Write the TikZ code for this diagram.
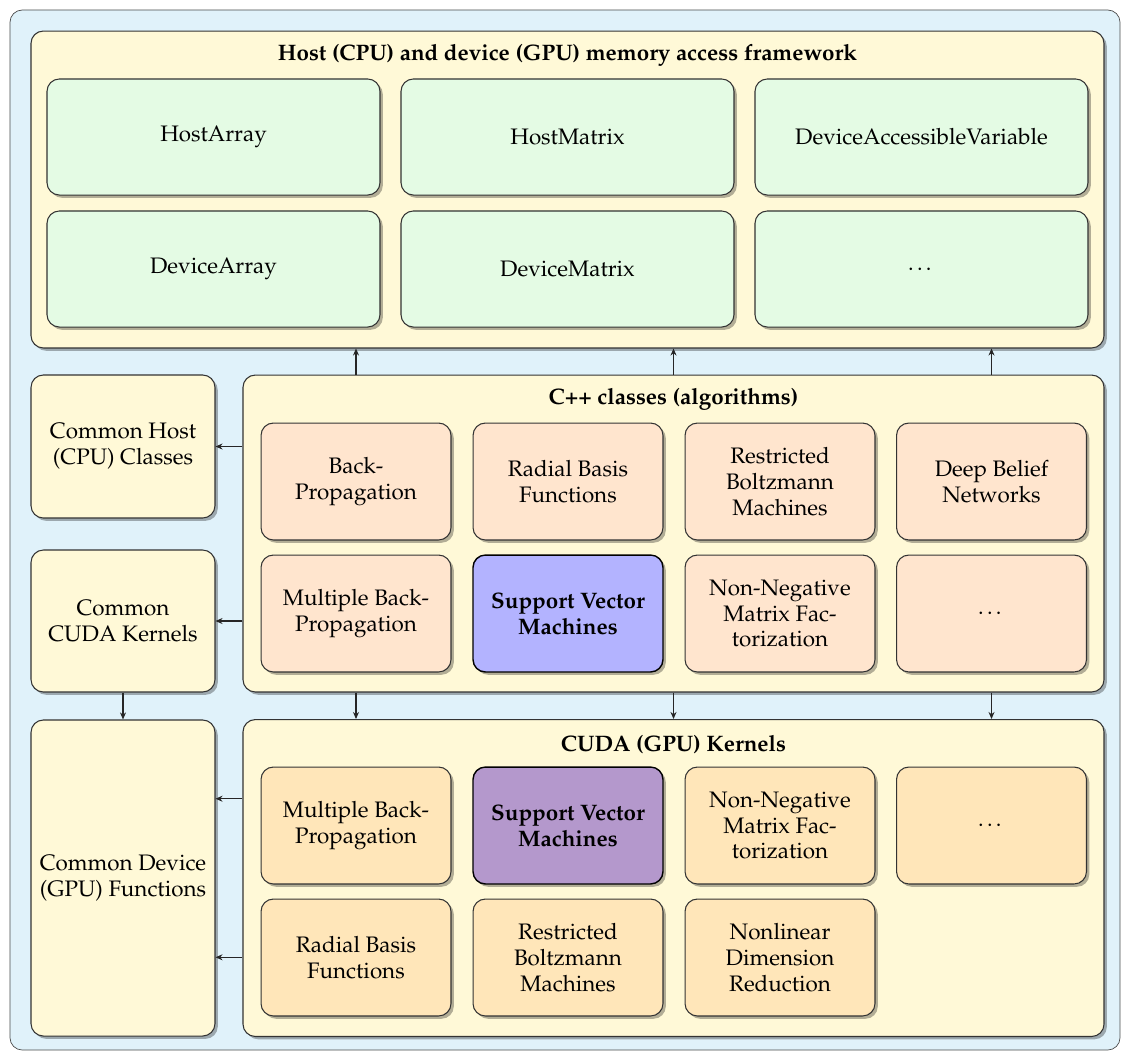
\documentclass[tikz,border=0pt]{standalone}
\usepackage[T1]{fontenc}
\usepackage{mathpazo}
\usetikzlibrary{shadows,calc,arrows.meta}

\definecolor{outerfill}{RGB}{224,242,250}
\definecolor{framefill}{RGB}{255,249,215}
\definecolor{memfill}{RGB}{228,251,228}
\definecolor{algofill}{RGB}{255,229,206}
\definecolor{kernfill}{RGB}{255,230,185}
\definecolor{svmblue}{RGB}{179,179,255}
\definecolor{svmviolet}{RGB}{180,152,204}

\tikzset{
  every node/.style={font=\fontsize{12.7}{14.7}\selectfont},
  boxbase/.style={rectangle, rounded corners=7pt, draw=black!80, semithick,
    align=center, inner sep=0pt,
    drop shadow={shadow xshift=1.6pt, shadow yshift=-1.6pt, fill=black, opacity=0.3}},
  outerbox/.style={rectangle, rounded corners=7pt, draw=black!70, thin,
    fill=outerfill, inner sep=0pt, minimum width=629.4pt, minimum height=589.7pt},
  frame/.style={boxbase, fill=framefill, minimum width=488.2pt, minimum height=179.7pt},
  hostframe/.style={frame, minimum width=608.4pt},
  membox/.style={boxbase, fill=memfill, minimum width=188.8pt, minimum height=65.8pt},
  cellbox/.style={boxbase, minimum width=107.7pt, minimum height=66.3pt},
  algobox/.style={cellbox, fill=algofill},
  kernbox/.style={cellbox, fill=kernfill},
  commonbox/.style={boxbase, fill=framefill, minimum width=104.3pt},
  svmbox/.style={cellbox, draw=black, thick, font=\fontsize{12.7}{14.7}\selectfont\bfseries},
  titletext/.style={font=\fontsize{12.7}{14.7}\selectfont\bfseries},
  arr/.style={-{Stealth[length=4pt,width=3.4pt,inset=1.3pt]}, semithick, black!85}
}

\begin{document}
\begin{tikzpicture}[x=0.567pt, y=-0.567pt]
  \useasboundingbox (0,0) rectangle (1122,1052);

  % background panel
  \node[outerbox] (outer) at (565,530) {};

  % memory access framework
  \node[hostframe] (host) at (567.5,189.5) {};
  \node[titletext] (hostT) at (567.5,55) {Host (CPU) and device (GPU) memory access framework};
  \node[membox] (m11) at (213.5,137) {HostArray};
  \node[membox] (m12) at (567.5,137) {HostMatrix};
  \node[membox] (m13) at (921.5,137) {DeviceAccessibleVariable};
  \node[membox] (m21) at (213.5,269) {DeviceArray};
  \node[membox] (m22) at (567.5,269) {DeviceMatrix};
  \node[membox] (m23) at (921.5,269) {\dots};

  % common blocks on the left
  \node[commonbox, minimum height=81.1pt] (hostcls) at (123,446.5) {Common Host\\(CPU) Classes};
  \node[commonbox, minimum height=80.5pt] (cudacls) at (123,621) {Common\\CUDA Kernels};
  \node[commonbox, minimum height=179.2pt] (devfn) at (123,878) {Common Device\\(GPU) Functions};

  % C++ classes
  \node[frame] (cpp) at (673.5,533.5) {};
  \node[titletext] (cppT) at (673.5,399) {C++ classes (algorithms)};
  \node[algobox] (a11) at (356,481.5) {Back-\\Propagation};
  \node[algobox] (a12) at (568,481.5) {Radial Basis\\Functions};
  \node[algobox] (a13) at (780,481.5) {Restricted\\Boltzmann\\Machines};
  \node[algobox] (a14) at (991.5,481.5) {Deep Belief\\Networks};
  \node[algobox] (a21) at (356,613.5) {Multiple Back-\\Propagation};
  \node[svmbox, fill=svmblue] (a22) at (568,613.5) {Support Vector\\Machines};
  \node[algobox] (a23) at (780,613.5) {Non-Negative\\Matrix Fac-\\torization};
  \node[algobox] (a24) at (991.5,613.5) {\dots};

  % CUDA kernels
  \node[frame] (cuda) at (673.5,878) {};
  \node[titletext] (cudaT) at (673.5,745) {CUDA (GPU) Kernels};
  \node[kernbox] (k11) at (356,825.5) {Multiple Back-\\Propagation};
  \node[svmbox, fill=svmviolet] (k12) at (568,825.5) {Support Vector\\Machines};
  \node[kernbox] (k13) at (780,825.5) {Non-Negative\\Matrix Fac-\\torization};
  \node[kernbox] (k14) at (991.5,825.5) {\dots};
  \node[kernbox] (k21) at (356,957.5) {Radial Basis\\Functions};
  \node[kernbox] (k22) at (568,957.5) {Restricted\\Boltzmann\\Machines};
  \node[kernbox] (k23) at (780,957.5) {Nonlinear\\Dimension\\Reduction};

  % dependencies
  \draw[arr] (cpp.north -| a11.north) -- (host.south -| a11.north);
  \draw[arr] (cpp.north) -- (host.south -| cpp.north);
  \draw[arr] (cpp.north -| a14.north) -- (host.south -| a14.north);

  \draw[arr] (cpp.west |- hostcls.east) -- (hostcls.east);
  \draw[arr] (cpp.west |- cudacls.east) -- (cudacls.east);

  \draw[arr] (cpp.south -| a11.south) -- (cuda.north -| a11.south);
  \draw[arr] (cpp.south) -- (cuda.north -| cpp.south);
  \draw[arr] (cpp.south -| a14.south) -- (cuda.north -| a14.south);

  \draw[arr] (cudacls.south) -- (devfn.north);

  \coordinate (dfA) at ($(devfn.north east)!0.25!(devfn.south east)$);
  \coordinate (dfB) at ($(devfn.north east)!0.75!(devfn.south east)$);
  \draw[arr] (cuda.west |- dfA) -- (dfA);
  \draw[arr] (cuda.west |- dfB) -- (dfB);
\end{tikzpicture}
\end{document}
